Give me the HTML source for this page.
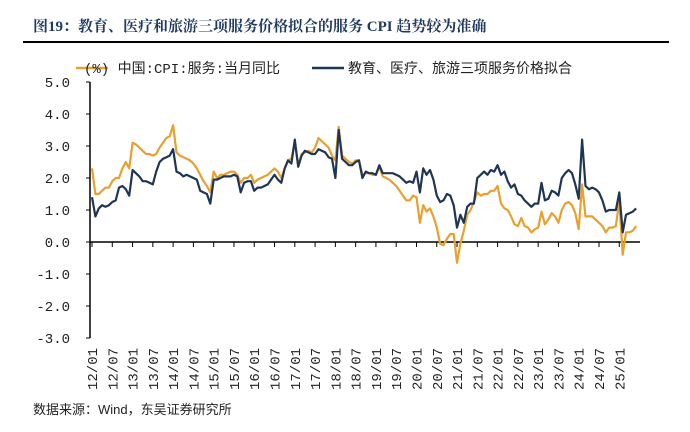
<!DOCTYPE html>
<html><head><meta charset="utf-8">
<style>
body{margin:0;background:#fff;}
svg{display:block;}
text{font-family:"Liberation Sans","Noto Sans CJK SC",sans-serif;}
text.mono{font-family:"Liberation Mono","Noto Sans CJK SC",monospace;}
text.serif{font-family:"Liberation Serif","Noto Serif CJK SC",serif;}
</style></head><body>
<svg id="chart" width="690" height="432" viewBox="0 0 690 432" xmlns="http://www.w3.org/2000/svg">
<text class="serif" x="33" y="31" font-size="15" font-weight="bold" fill="#1f3a5f">图19：教育、医疗和旅游三项服务价格拟合的服务 CPI 趋势较为准确</text>
<line x1="23" y1="42" x2="669" y2="42" stroke="#000" stroke-width="2"/>
<g>
<line x1="76" y1="68" x2="108" y2="68" stroke="#e8a030" stroke-width="2.5"/>
<text class="mono" x="84" y="73" font-size="14" fill="#222">(%) 中国:CPI:服务:当月同比</text>
<line x1="312" y1="68" x2="344" y2="68" stroke="#1f3556" stroke-width="2.5"/>
<text x="348" y="73" font-size="14" fill="#222">教育、医疗、旅游三项服务价格拟合</text>
</g>
<g id="axes"></g>
<g id="series"></g>
<text x="33" y="414" font-size="13" fill="#222">数据来源：Wind，东吴证券研究所</text>
</svg>
<script>
const yTicks=[5,4,3,2,1,0,-1,-2,-3];
const xLabels=["12/01","12/07","13/01","13/07","14/01","14/07","15/01","15/07","16/01","16/07","17/01","17/07","18/01","18/07","19/01","19/07","20/01","20/07","21/01","21/07","22/01","22/07","23/01","23/07","24/01","24/07","25/01"];
const cpiServices=[
2.3,1.5,1.5,1.6,1.7,1.7,1.9,2.0,2.0,2.3,2.5,2.3,
3.1,3.05,2.95,2.85,2.75,2.75,2.7,2.75,2.95,3.1,3.25,3.3,
3.65,2.8,2.7,2.65,2.6,2.55,2.45,2.3,2.1,1.9,1.75,1.55,
2.2,2.0,2.1,2.1,2.15,2.2,2.2,2.1,1.85,2.0,2.0,2.1,
1.85,1.95,2.0,2.05,2.1,2.2,2.3,2.2,2.0,2.3,2.55,2.6,
3.1,2.4,2.75,2.8,2.85,2.8,2.95,3.25,3.15,3.05,2.95,2.7,
2.55,3.6,2.7,2.6,2.5,2.45,2.55,2.55,2.1,2.15,2.15,2.1,
2.1,2.35,2.05,2.0,1.95,1.85,1.75,1.6,1.45,1.3,1.3,1.45,
1.4,0.6,1.15,0.95,1.05,0.8,0.45,-0.05,-0.1,0.1,0.25,0.25,
-0.65,-0.05,0.35,0.85,1.0,1.25,1.55,1.45,1.5,1.5,1.6,1.6,
1.75,1.2,1.05,1.0,0.8,0.55,0.5,0.75,0.5,0.45,0.3,0.4,
0.45,0.95,0.55,0.7,0.9,0.8,0.6,1.0,1.2,1.25,1.15,0.9,
0.4,1.8,0.8,0.8,0.8,0.7,0.6,0.5,0.3,0.45,0.45,0.5,
1.3,-0.4,0.3,0.3,0.35,0.5];
const fittedServices=[
1.4,0.8,1.05,1.15,1.1,1.15,1.25,1.3,1.7,1.75,1.65,1.45,
2.25,2.15,2.05,1.9,1.9,1.85,1.8,2.2,2.5,2.6,2.65,2.7,
2.9,2.2,2.15,2.05,2.1,2.05,2.0,1.95,1.6,1.55,1.5,1.2,
1.95,1.95,2.0,2.05,2.05,2.05,2.1,2.05,1.55,1.85,1.9,1.9,
1.6,1.7,1.7,1.75,1.8,1.95,2.1,1.95,1.85,2.3,2.55,2.45,
3.2,2.35,2.7,2.85,2.8,2.75,2.75,2.9,2.85,2.8,2.65,2.6,
2.0,3.5,2.6,2.5,2.4,2.4,2.5,2.55,2.0,2.2,2.15,2.15,
2.1,2.4,2.15,2.15,2.15,2.15,2.1,2.05,1.95,1.85,1.9,1.85,
2.2,1.55,2.3,2.1,2.25,1.95,1.45,1.25,1.3,1.5,1.45,1.15,
0.45,0.85,0.6,1.1,1.2,1.2,2.0,2.1,2.2,2.1,2.25,2.2,
2.4,2.1,2.2,1.9,1.7,1.8,1.5,1.45,1.3,1.2,1.1,1.2,
1.2,1.85,1.3,1.35,1.6,1.55,1.45,2.0,2.15,2.25,2.15,1.8,
1.35,3.2,1.75,1.65,1.7,1.65,1.55,1.3,0.95,1.0,1.0,1.0,
1.55,0.3,0.85,0.9,0.95,1.05];

const NS="http://www.w3.org/2000/svg";
const X0=92, DX=3.38, Y0=242, DY=32;
function xs(m){return X0+m*DX;}
function ys(v){return Y0-v*DY;}
const axes=document.getElementById('axes');
function mk(tag,attrs,parent){const e=document.createElementNS(NS,tag);for(const k in attrs)e.setAttribute(k,attrs[k]);parent.appendChild(e);return e;}
const yl=mk('line',{x1:90,y1:ys(5),x2:90,y2:ys(-3),stroke:'#000','stroke-width':1.5},axes);


yTicks.forEach(v=>{
  const t=mk('line',{x1:86,y1:ys(v),x2:90,y2:ys(v),stroke:'#000'},axes);
  
  
  const l=mk('text',{class:'mono',x:70,y:ys(v)+5,'font-size':14,'text-anchor':'end',fill:'#222'},axes);
  l.textContent=v.toFixed(1);
  
  
});
const xl=mk('line',{x1:90,y1:Y0,x2:640,y2:Y0,stroke:'#000','stroke-width':1.5},axes);


xLabels.forEach((s,i)=>{
  const x=xs(i*6);
  const t=mk('line',{x1:x,y1:Y0,x2:x,y2:Y0+5,stroke:'#000'},axes);
  
  
  const l=mk('text',{class:'mono',x:0,y:0,'font-size':14,fill:'#222','text-anchor':'end',transform:`translate(${x+5},348) rotate(-90)`},axes);
  l.textContent=s;
  
  
});
const ser=document.getElementById('series');
function line(data,color,name){
  const d=data.map((v,i)=>(i?'L':'M')+xs(i).toFixed(1)+','+ys(v).toFixed(1)).join('');
  const p=mk('path',{d:d,fill:'none',stroke:color,'stroke-width':2.2,'stroke-linejoin':'round'},ser);
  
  
}
line(cpiServices,'#e8a030','cpi-services-line');
line(fittedServices,'#1f3556','fitted-services-line');
</script>
</body></html>
